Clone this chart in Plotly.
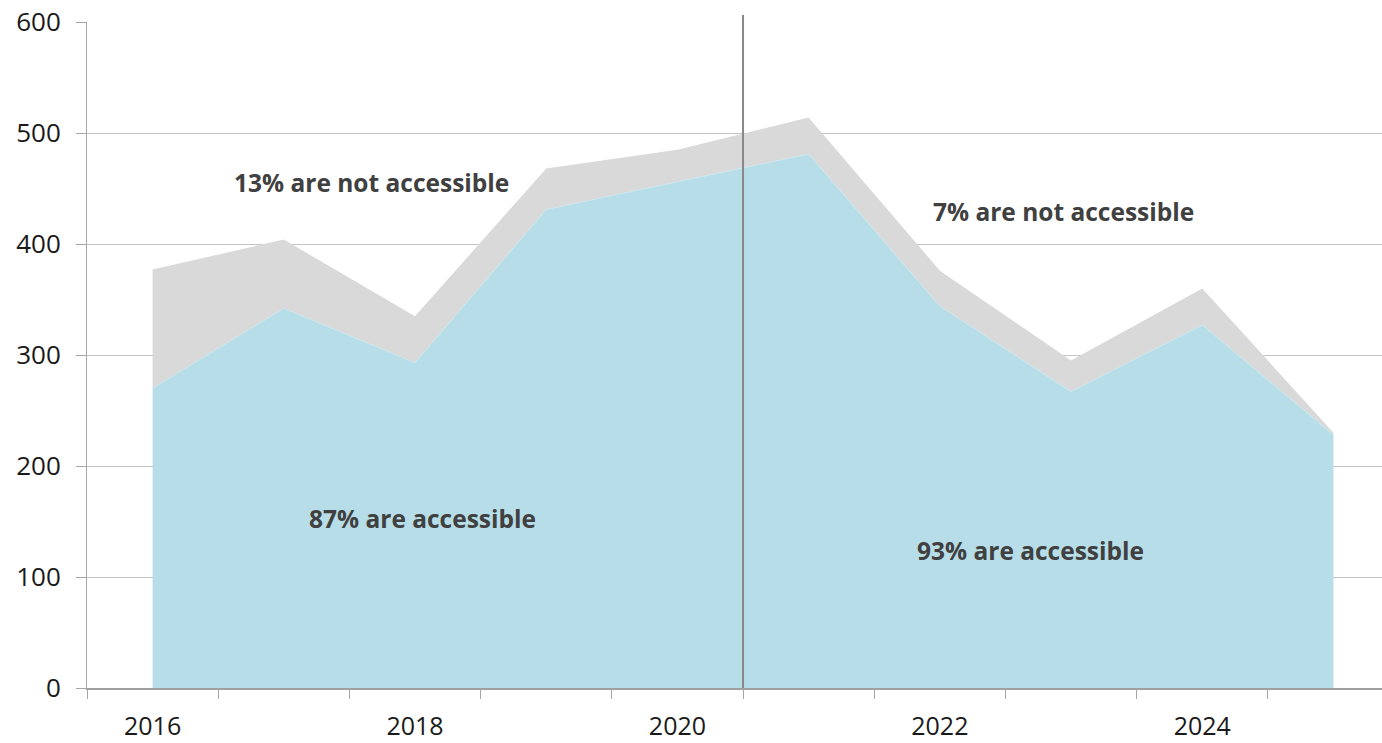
import plotly.graph_objects as go

years = [2016, 2017, 2018, 2019, 2020, 2021, 2022, 2023, 2024, 2025]
accessible = [270, 342, 293, 431, 456, 481, 344, 267, 327, 228]
not_accessible = [107, 62, 42, 37, 29, 33, 32, 28, 33, 2]
x_tick_labels = ["2016", "2018", "2020", "2022", "2024"]
x_tick_years = [2016, 2018, 2020, 2022, 2024]
boundaries = [2015.5, 2016.5, 2017.5, 2018.5, 2019.5, 2020.5, 2021.5, 2022.5, 2023.5, 2024.5]
divider_year = 2020.5
notes = [
    ("13% are not accessible", 2017.67, 455),
    ("87% are accessible", 2018.06, 153),
    ("7% are not accessible", 2022.94, 429),
    ("93% are accessible", 2022.69, 124),
]

FONT = "Open Sans, Noto Sans, sans-serif"

fig = go.Figure()
fig.add_trace(go.Scatter(
    x=years, y=accessible, stackgroup="one", mode="lines",
    line=dict(width=1, color="#cbe7ef"), fillcolor="#b7dde8",
    name="Accessible", hoverinfo="x+y"))
fig.add_trace(go.Scatter(
    x=years, y=not_accessible, stackgroup="one", mode="lines",
    line=dict(width=0, color="#d9d9d9"), fillcolor="#d9d9d9",
    name="Not accessible", hoverinfo="x+y"))

# invisible trace on secondary x axis for boundary tick marks
fig.add_trace(go.Scatter(x=[boundaries[0]], y=[0], xaxis="x2", mode="markers",
                         marker=dict(opacity=0), showlegend=False, hoverinfo="skip"))

x_range = [2015.5, 2025.37]

fig.add_shape(type="line", xref="x", yref="paper", x0=divider_year, x1=divider_year,
              y0=0, y1=1.0105, line=dict(color="#888888", width=2))

for text, xv, yv in notes:
    fig.add_annotation(x=xv, y=yv, text=f"<b>{text}</b>", showarrow=False,
                       font=dict(family=FONT, size=24.5, color="#404040"))

fig.update_layout(
    width=1382, height=743,
    margin=dict(l=87, r=0, t=22, b=55, autoexpand=False),
    paper_bgcolor="white", plot_bgcolor="white",
    showlegend=False,
    font=dict(family=FONT, size=26, color="#1a1a1a"),
    xaxis=dict(range=x_range, tickmode="array", tickvals=x_tick_years, ticktext=x_tick_labels,
               ticks="", showgrid=False, zeroline=False, showline=True, automargin=False,
               linecolor="#a0a0a0", linewidth=1.5, ticklabelstandoff=15,
               tickfont=dict(family=FONT, size=25, color="#1a1a1a")),
    xaxis2=dict(range=x_range, overlaying="x", side="bottom", anchor="y", automargin=False,
                tickmode="array", tickvals=boundaries, ticks="outside", ticklen=10,
                tickcolor="#a6a6a6", tickwidth=1, showticklabels=False,
                showgrid=False, zeroline=False, showline=False),
    yaxis=dict(range=[0, 600], tickmode="array", tickvals=[0, 100, 200, 300, 400, 500, 600],
               ticks="outside", ticklen=10, tickcolor="#a6a6a6", showgrid=True, automargin=False,
               gridcolor="#c4c4c4", gridwidth=1, zeroline=False, showline=True,
               linecolor="#a6a6a6", linewidth=1, ticklabelstandoff=10),
)

fig.write_html("out.html")
